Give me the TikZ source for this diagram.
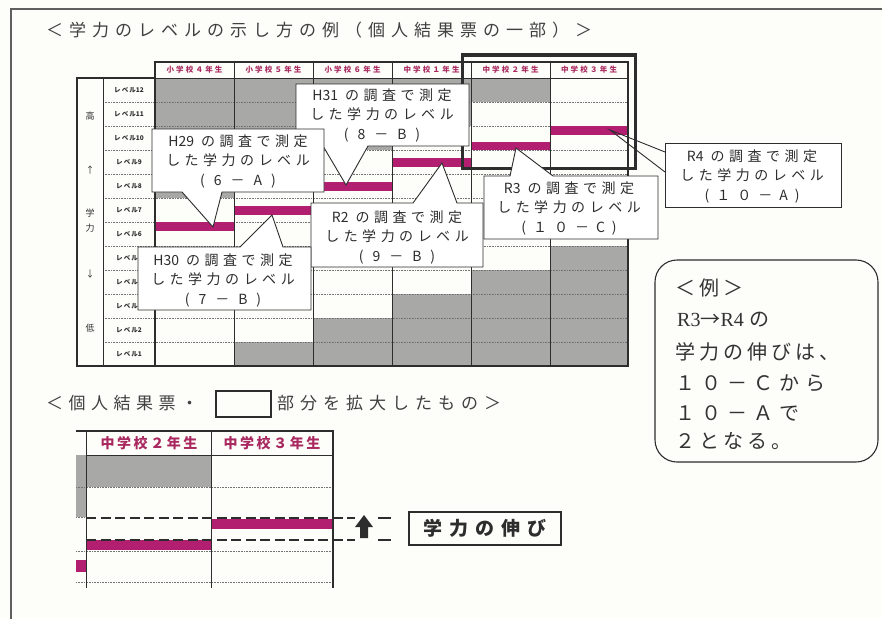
\documentclass[tikz,border=0pt]{standalone}
\usepackage{fontspec}
\setmainfont{Noto Sans CJK JP}
\newfontfamily\lser{Liberation Serif}
\definecolor{mag}{RGB}{178,30,112}
\definecolor{hdr}{RGB}{168,40,95}
\definecolor{cellgray}{RGB}{168,168,166}
\definecolor{ink}{RGB}{45,45,45}
\definecolor{paper}{RGB}{253,253,249}
\definecolor{framegray}{RGB}{95,95,95}
\def\spcstop{\spcstop}
\def\spcstopm{\spcstop}
\def\spcloop#1{\def\spctmp{#1}\ifx\spctmp\spcstopm\unskip\else#1\hskip\spcamt\relax\expandafter\spcloop\fi}
\newcommand\spc[2]{\def\spcamt{#1}\spcloop#2\spcstop}
\tikzset{
 callout/.style={fill=white, draw=ink, line width=0.9},
 ctext/.style={inner sep=0, align=center, text=ink, font=\fontsize{14}{19.5}\selectfont},
 lvl/.style={inner sep=0, text=ink, font=\fontsize{6.5}{8}\selectfont\bfseries},
 hdrtxt/.style={inner sep=0, text=hdr, font=\fontsize{7.5}{9}\selectfont\bfseries},
 bighdr/.style={inner sep=0, text=hdr, font=\fontsize{14}{16}\selectfont\bfseries},
 sidetxt/.style={inner sep=0, text=ink, font=\fontsize{9}{10}\selectfont},
 dotrow/.style={densely dotted, line width=0.6, black!55},
 thinline/.style={ink, line width=0.9},
 boldline/.style={ink, line width=1.8},
 titletxt/.style={inner sep=0, anchor=west, text=black!75, font=\fontsize{17}{20}\selectfont},
 extxt/.style={inner sep=0, anchor=west, text=black!80, font=\fontsize{20}{24}\selectfont},
 bar/.style={fill=mag},
 growdash/.style={ink, line width=1.8, dash pattern=on 10pt off 4.5pt},
}
\begin{document}
\begin{tikzpicture}[x=1pt,y=-1pt]
\useasboundingbox (0,0) rectangle (882,618);
\clip (0,0) rectangle (882,618);
\fill[paper] (0,0) rectangle (882,618);
\draw[framegray, line width=1.4] (11,9) rectangle (900,640);

% title
\node[titletxt] (title) at (46,30) {\spc{6pt}{＜学力のレベルの示し方の例（個人結果票の一部）＞}};

% ---------- main table ----------
% gray fills
\fill[cellgray] (155,78) rectangle (234,198);
\fill[cellgray] (234,78) rectangle (313,174);
\fill[cellgray] (313,78) rectangle (392,150);
\fill[cellgray] (392,78) rectangle (471,126);
\fill[cellgray] (471,78) rectangle (550,102);
\fill[cellgray] (234,342) rectangle (313,366);
\fill[cellgray] (313,318) rectangle (392,366);
\fill[cellgray] (392,294) rectangle (471,366);
\fill[cellgray] (471,270) rectangle (550,366);
\fill[cellgray] (550,246) rectangle (628,366);
% dotted rows
\foreach \i in {1,...,11} {
  \draw[dotrow] (103,78+24*\i) -- (628,78+24*\i);
}
% magenta bars
\fill[bar] (155,222) rectangle (234,231);
\fill[bar] (234,206) rectangle (313,215);
\fill[bar] (313,182) rectangle (392,191);
\fill[bar] (392,158) rectangle (471,167);
\fill[bar] (471,142) rectangle (550,150);
\fill[bar] (550,126) rectangle (628,135);
% column lines
\draw[thinline] (103,78) -- (103,366);
\foreach \x in {234,313,392,471,550} { \draw[thinline] (\x,62) -- (\x,366); }
\draw[thinline] (155,78) -- (628,78);
\draw[boldline] (77,78) rectangle (155,366);
\draw[boldline] (155,62) rectangle (628,366);
% headers
\node[hdrtxt] (h1) at (194.5,70) {\spc{2.2pt}{小学校４年生}};
\node[hdrtxt] (h2) at (273.5,70) {\spc{2.2pt}{小学校５年生}};
\node[hdrtxt] (h3) at (352.5,70) {\spc{2.2pt}{小学校６年生}};
\node[hdrtxt] (h4) at (431.5,70) {\spc{2.2pt}{中学校１年生}};
\node[hdrtxt] (h5) at (510.5,70) {\spc{2.2pt}{中学校２年生}};
\node[hdrtxt] (h6) at (589,70) {\spc{2.2pt}{中学校３年生}};
% level labels
\foreach \n [count=\i from 0] in {12,11,10,9,8,7,6,5,4,3,2,1} {
  \node[lvl] (lv\n) at (129,90+24*\i) {\spc{1.1pt}{レベル}\n};
}
% side text
\node[sidetxt] (sHi) at (90,116) {高};
\node[sidetxt] (sUp) at (90,170) {↑};
\node[sidetxt] (sGa) at (90,213) {学};
\node[sidetxt] (sRy) at (90,228) {力};
\node[sidetxt] (sDn) at (90,274) {↓};
\node[sidetxt] (sLo) at (90,328) {低};
% highlight frame
\draw[ink, line width=3] (462,55) rectangle (635,168);

% ---------- callouts ----------
% H31
\filldraw[callout] (296,84) -- (469,84) -- (469,146) -- (368,146) -- (346,185) coordinate (tipH31) -- (323,146) -- (296,146) -- cycle;
\node[ctext] (cH31) at (382,115) {\spc{4.5pt}{{H31\hskip2.5pt}の調査で測定}\\\spc{4.5pt}{した学力のレベル}\\\spc{9pt}{(8－B)}};
% H29
\filldraw[callout] (152,129) -- (324,129) -- (324,192) -- (222,192) -- (213,227) coordinate (tipH29) -- (182,192) -- (152,192) -- cycle;
\node[ctext] (cH29) at (238,161) {\spc{4.5pt}{{H29\hskip2.5pt}の調査で測定}\\\spc{4.5pt}{した学力のレベル}\\\spc{9pt}{(6－A)}};
% R2
\filldraw[callout] (311,203) -- (413,203) -- (442,163) coordinate (tipR2) -- (457,203) -- (483,203) -- (483,267) -- (311,267) -- cycle;
\node[ctext] (cR2) at (397,237) {\spc{4.5pt}{{R2\hskip2.5pt}の調査で測定}\\\spc{4.5pt}{した学力のレベル}\\\spc{9pt}{(9－B)}};
% H30
\filldraw[callout] (138,247) -- (240,247) -- (272,215) coordinate (tipH30) -- (283,247) -- (311,247) -- (311,310) -- (138,310) -- cycle;
\node[ctext] (cH30) at (223,280) {\spc{4.5pt}{{H30\hskip2.5pt}の調査で測定}\\\spc{4.5pt}{した学力のレベル}\\\spc{9pt}{(7－B)}};
% R3
\filldraw[callout] (484,176) -- (510,176) -- (516,148) coordinate (tipR3) -- (553,176) -- (658,176) -- (658,239) -- (484,239) -- cycle;
\node[ctext] (cR3) at (569,208) {\spc{4.5pt}{{R3\hskip2.5pt}の調査で測定}\\\spc{4.5pt}{した学力のレベル}\\\spc{7pt}{(１０－C)}};
% R4
\filldraw[callout] (665,143) rectangle (841,207);
\coordinate (tipR4) at (610,130);
\coordinate (r4a) at (665,152);
\coordinate (r4b) at (665,172);
\draw[callout, fill=none] (r4a) -- (tipR4) -- (r4b);
\node[ctext] (cR4) at (752,176) {\spc{4.5pt}{{R4\hskip2.5pt}の調査で測定}\\\spc{4.5pt}{した学力のレベル}\\\spc{7pt}{(１０－A)}};

% ---------- example box ----------
\draw[ink, line width=1.1, rounded corners=22pt] (655,260) rectangle (878,462);
\node[extxt] (ex1) at (675,288) {\spc{4pt}{＜例＞}};
\node[extxt] (ex2) at (677,320) {{\lser R3}→{\lser R4}\hskip6pt\spc{4pt}{の}};
\node[extxt] (ex3) at (675,352) {\spc{4pt}{学力の伸びは、}};
\node[extxt] (ex4) at (675,383) {\spc{6pt}{１０－Ｃから}};
\node[extxt] (ex5) at (675,413) {\spc{6pt}{１０－Ａで}};
\node[extxt] (ex6) at (675,441) {\spc{4pt}{２となる。}};

% ---------- enlarged part ----------
\node[titletxt] (sub1) at (46,403) {\spc{5.5pt}{＜個人結果票・}};
\draw[ink, line width=1.8] (216,391) rectangle (271,417);
\node[titletxt] (sub2) at (277,403) {\spc{6pt}{部分を拡大したもの＞}};

\fill[cellgray] (86,455) rectangle (211,487);
\fill[cellgray] (76,455) rectangle (86,517);
\foreach \yy in {487,551,582} { \draw[dotrow] (76,\yy) -- (333,\yy); }
\draw[dotrow] (76,517) -- (86,517);
\fill[bar] (211,519) rectangle (333,529);
\fill[bar] (86,540) rectangle (211,550);
\fill[bar] (76,560) rectangle (86,572);
\draw[thinline] (86,455) -- (333,455);
\draw[ink, line width=1.4] (76,431) -- (334,431);
\draw[thinline] (86,431) -- (86,588);
\draw[thinline] (211,431) -- (211,588);
\draw[ink, line width=2.4] (333,431) -- (333,588);
\node[bighdr] (bh1) at (149,443) {\spc{2.6pt}{中学校２年生}};
\node[bighdr] (bh2) at (272,443) {\spc{2.6pt}{中学校３年生}};
% growth lines
\coordinate (gA1) at (86,518);
\coordinate (gA2) at (355,518);
\coordinate (gA3) at (378,518);
\coordinate (gA4) at (391,518);
\coordinate (gB1) at (86,540);
\coordinate (gB2) at (355,540);
\coordinate (gB3) at (378,540);
\coordinate (gB4) at (391,540);
\draw[growdash] (gA1) -- (gA2);
\draw[growdash] (gB1) -- (gB2);
\draw[ink, line width=1.8] (gA3) -- (gA4);
\draw[ink, line width=1.8] (gB3) -- (gB4);
\fill[ink] (355,527) -- (364,515) -- (373,527) -- (368,527) -- (368,538) -- (360,538) -- (360,527) -- cycle;
% label
\draw[ink, line width=1.1] (409,512) rectangle (561,545);
\node[inner sep=0, text=ink, font=\fontsize{19}{22}\selectfont\bfseries] (grow) at (485,528.5) {\spc{7pt}{学力の伸び}};
\end{tikzpicture}
\end{document}
